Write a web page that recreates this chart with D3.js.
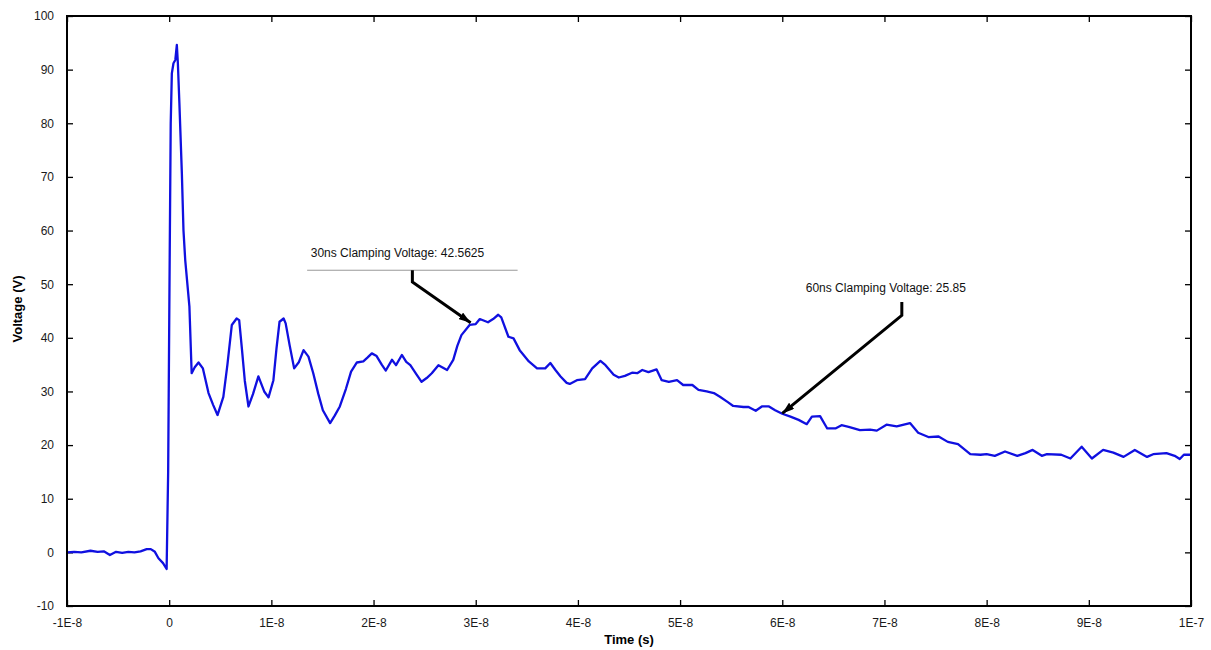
<!DOCTYPE html>
<html>
<head>
<meta charset="utf-8">
<script src="https://cdn.jsdelivr.net/npm/d3@7"></script>
<style>
  body { margin: 0; background: #fff; }
  text { font-family: "Liberation Sans", Arial, sans-serif; }
</style>
</head>
<body>
<svg id="chart"></svg>
<script>
// time in ns, voltage in V
var times = [-10,-9.3,-8.6,-7.7,-7.0,-6.4,-5.8,-5.2,-4.6,-4.0,-3.4,-2.8,-2.2,-1.8,-1.4,-1.05,-0.6,-0.25,-0.1,0.05,
  0.15,0.26,0.42,0.6,0.75,0.85,1.0,1.24,1.4,1.57,1.98,2.2,2.5,2.87,3.3,3.85,4.3,4.73,5.3,5.7,
  6.13,6.6,6.85,7.1,7.4,7.76,8.2,8.73,9.3,9.72,10.2,10.5,10.8,11.2,11.4,11.8,12.23,12.7,13.15,13.63,
  14.1,14.6,15.04,15.75,16.2,16.7,17.3,17.8,18.37,19.0,19.4,19.83,20.3,20.8,21.2,21.8,22.2,22.77,23.2,23.6,
  24.2,24.7,25.2,25.7,26.35,27.2,27.8,28.2,28.6,29.4,30.0,30.4,31.2,31.7,32.2,32.5,33.2,33.7,34.3,35.2,
  36.0,36.8,37.3,37.8,38.3,38.9,39.2,39.9,40.7,41.4,42.2,42.7,43.5,44.0,44.6,45.3,45.8,46.3,46.9,47.7,
  48.2,48.9,49.7,50.3,51.2,51.8,52.6,53.3,53.9,54.6,55.2,56.2,56.7,57.4,58.0,58.7,59.3,60.0,60.8,61.6,
  62.4,62.9,63.7,64.4,65.2,65.8,66.5,67.6,68.6,69.25,70.2,71.2,72.5,73.3,74.3,75.3,76.2,77.2,78.4,79.4,
  80.0,80.8,81.8,83.0,83.8,84.5,85.4,85.9,87.3,88.2,89.3,90.3,91.4,92.4,93.4,94.5,95.7,96.3,97.6,98.4,
  98.9,99.3,100];
var volts = [0.0,0.1,0.0,0.3,0.1,0.2,-0.5,0.1,-0.1,0.1,0.0,0.2,0.6,0.6,0.1,-1.1,-2.0,-3.1,15,55,
  80,89.3,91.2,91.8,94.6,91.2,83.7,70.7,60,54.5,45.8,33.4,34.5,35.4,34.3,29.7,27.5,25.6,29.0,35,
  42.4,43.6,43.3,38.3,32,27.2,29.5,32.8,30.0,28.9,32.1,38,43.0,43.6,42.7,38.5,34.3,35.5,37.7,36.5,
  33.4,29.5,26.5,24.1,25.5,27.2,30.5,33.7,35.4,35.6,36.3,37.1,36.6,35.0,33.9,35.9,34.9,36.8,35.5,34.9,
  33.2,31.8,32.5,33.4,34.9,34.0,35.9,38.5,40.5,42.4,42.56,43.5,42.9,43.5,44.3,43.8,40.2,39.9,37.7,35.6,
  34.3,34.3,35.3,34.0,32.8,31.6,31.4,32.1,32.3,34.3,35.7,34.9,33.1,32.6,32.9,33.5,33.4,34.0,33.6,34.1,
  32.1,31.8,32.1,31.2,31.2,30.3,30.0,29.7,29.0,28.1,27.3,27.1,27.1,26.4,27.2,27.2,26.5,25.85,25.3,24.7,
  23.9,25.3,25.4,23.1,23.1,23.7,23.4,22.8,22.9,22.7,23.8,23.5,24.1,22.3,21.5,21.6,20.6,20.2,18.3,18.2,
  18.3,18.0,18.8,18.0,18.5,19.1,18.0,18.3,18.2,17.5,19.7,17.5,19.1,18.6,17.8,19.1,17.8,18.3,18.5,18.0,
  17.4,18.2,18.2];

var xTicks = [-10,0,10,20,30,40,50,60,70,80,90,100];
var xTickLabels = ["-1E-8","0","1E-8","2E-8","3E-8","4E-8","5E-8","6E-8","7E-8","8E-8","9E-8","1E-7"];
var yTicks = [-10,0,10,20,30,40,50,60,70,80,90,100];
var yTickLabels = ["-10","0","10","20","30","40","50","60","70","80","90","100"];

// annotations: label anchor, elbow top, elbow bottom, arrow tip (ns, V)
var annoText = ["30ns Clamping Voltage: 42.5625", "60ns Clamping Voltage: 25.85"];
var annoLabel = [[13.85, 55.0], [62.3, 48.6]];
var annoTop = [[23.8, 52.6], [71.7, 46.7]];
var annoBend = [[23.8, 50.4], [71.7, 44.2]];
var annoTip = [[29.5, 42.8], [60.0, 25.9]];
var annoRule = [[13.5, 34.1, 52.6], null];

var W = 1211, H = 650;
var margin = { top: 16, right: 20, bottom: 44, left: 67 };

var svg = d3.select("#chart").attr("width", W).attr("height", H);

var x = d3.scaleLinear().domain([-10, 100]).range([margin.left, W - margin.right]);
var y = d3.scaleLinear().domain([-10, 100]).range([H - margin.bottom, margin.top]);

var defs = svg.append("defs");
defs.append("marker")
    .attr("id", "head")
    .attr("viewBox", "0 0 12 8")
    .attr("refX", 12).attr("refY", 4)
    .attr("markerWidth", 12).attr("markerHeight", 8)
    .attr("markerUnits", "userSpaceOnUse")
    .attr("orient", "auto")
  .append("path")
    .attr("d", "M0,0 L12,4 L0,8 Z")
    .attr("fill", "#000");

// axes: ticks inside on all four sides
var tickLen = 6;
var axisFont = function(g) {
  g.selectAll("text")
      .style("font-family", "'Liberation Sans', Arial, sans-serif")
      .style("font-size", "12px")
      .attr("fill", "#1a1a1a");
  g.select(".domain").remove();
  g.selectAll(".tick line").attr("stroke", "#000").attr("stroke-width", 1.3);
};

svg.append("g")
    .attr("transform", "translate(0," + (H - margin.bottom) + ")")
    .call(d3.axisBottom(x).tickValues(xTicks)
      .tickFormat(function(d, i) { return xTickLabels[i]; })
      .tickSizeInner(-tickLen).tickSizeOuter(0).tickPadding(12))
    .call(axisFont);

svg.append("g")
    .attr("transform", "translate(0," + margin.top + ")")
    .call(d3.axisTop(x).tickValues(xTicks).tickFormat("")
      .tickSizeInner(-tickLen).tickSizeOuter(0))
    .call(axisFont);

svg.append("g")
    .attr("transform", "translate(" + margin.left + ",0)")
    .call(d3.axisLeft(y).tickValues(yTicks)
      .tickFormat(function(d, i) { return yTickLabels[i]; })
      .tickSizeInner(-tickLen).tickSizeOuter(0).tickPadding(13))
    .call(axisFont);

svg.append("g")
    .attr("transform", "translate(" + (W - margin.right) + ",0)")
    .call(d3.axisRight(y).tickValues(yTicks).tickFormat("")
      .tickSizeInner(-tickLen).tickSizeOuter(0))
    .call(axisFont);

// trace
var pts = times.map(function(t, i) { return [t, volts[i]]; });
svg.append("path")
    .datum(pts)
    .attr("fill", "none")
    .attr("stroke", "#1010e0")
    .attr("stroke-width", 2.3)
    .attr("stroke-linejoin", "round")
    .attr("d", d3.line().x(function(d) { return x(d[0]); }).y(function(d) { return y(d[1]); }));

// box
svg.append("rect")
    .attr("x", margin.left).attr("y", margin.top)
    .attr("width", W - margin.left - margin.right)
    .attr("height", H - margin.top - margin.bottom)
    .attr("fill", "none")
    .attr("stroke", "#000")
    .attr("stroke-width", 2);

// annotations
annoText.forEach(function(txt, i) {
  var g = svg.append("g");
  if (annoRule[i]) {
    g.append("line")
        .attr("x1", x(annoRule[i][0])).attr("x2", x(annoRule[i][1]))
        .attr("y1", y(annoRule[i][2])).attr("y2", y(annoRule[i][2]))
        .attr("stroke", "#999").attr("stroke-width", 1);
  }
  g.append("text")
      .attr("x", x(annoLabel[i][0])).attr("y", y(annoLabel[i][1]))
      .style("font-size", "12px")
      .attr("fill", "#111")
      .text(txt);
  var path = d3.path();
  path.moveTo(x(annoTop[i][0]), y(annoTop[i][1]));
  path.lineTo(x(annoBend[i][0]), y(annoBend[i][1]));
  path.lineTo(x(annoTip[i][0]), y(annoTip[i][1]));
  g.append("path")
      .attr("d", path.toString())
      .attr("fill", "none")
      .attr("stroke", "#000")
      .attr("stroke-width", 3)
      .attr("marker-end", "url(#head)");
});

// axis titles
svg.append("text")
    .attr("x", (margin.left + W - margin.right) / 2)
    .attr("y", 644)
    .attr("text-anchor", "middle")
    .style("font-size", "13px")
    .style("font-weight", "bold")
    .text("Time (s)");

svg.append("text")
    .attr("transform", "translate(22," + 309 + ") rotate(-90)")
    .attr("text-anchor", "middle")
    .style("font-size", "13px")
    .style("font-weight", "bold")
    .text("Voltage (V)");
</script>
</body>
</html>
